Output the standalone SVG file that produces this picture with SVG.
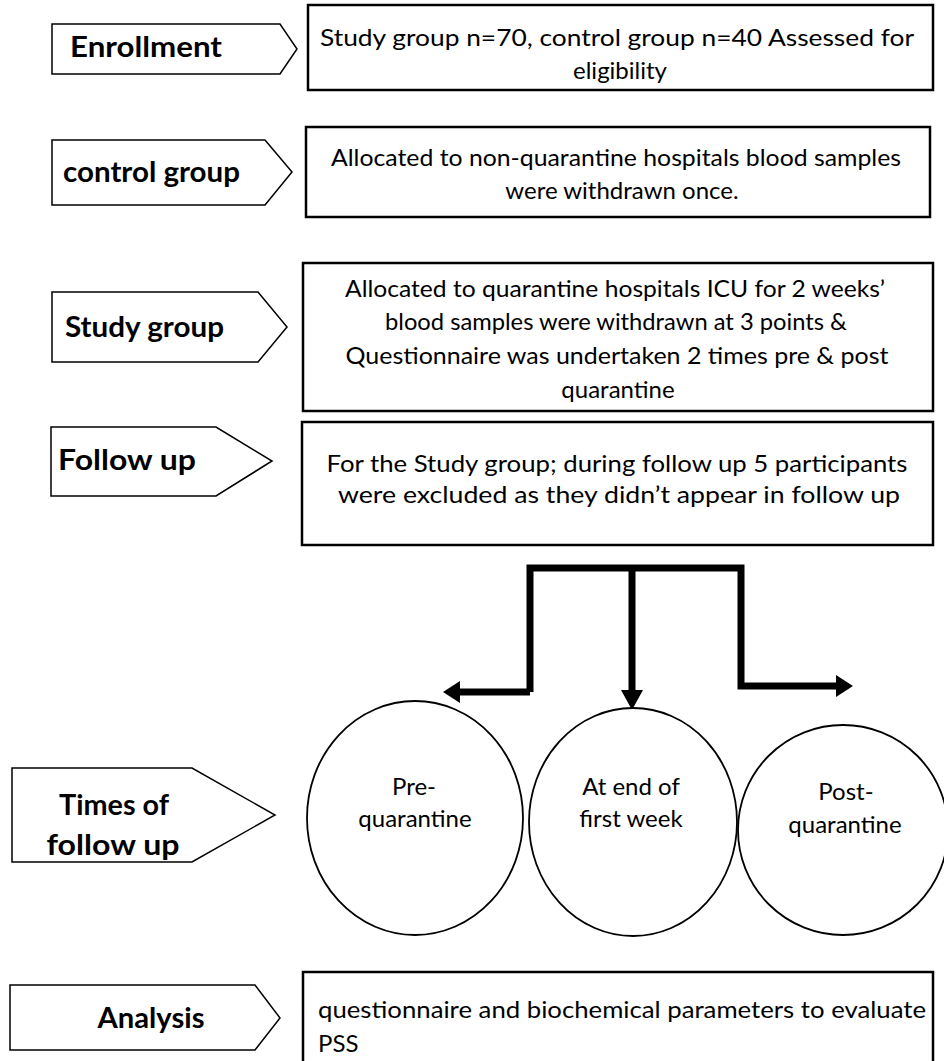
<svg xmlns="http://www.w3.org/2000/svg" width="944" height="1061" viewBox="0 0 944 1061">
<defs>
<style>
.tag{fill:#fff;stroke:#000;stroke-width:1.5}
.box{fill:#fff;stroke:#000;stroke-width:2.5}
.ell{fill:#fff;stroke:#000;stroke-width:1.8}
.lbl{font-family:Lato,"Liberation Sans",sans-serif;font-weight:bold;font-size:28px;fill:#000}
.txt{font-family:Lato,"Liberation Sans",sans-serif;font-size:24px;fill:#000}
.c{text-anchor:middle}
.con{fill:none;stroke:#000;stroke-width:7;stroke-linejoin:miter}
</style>
</defs>

<g id="enrollment">
<path class="tag" d="M52,24 H280 L297,49 L280,74 H52 Z"/>
<text class="lbl" x="70" y="57" textLength="152" lengthAdjust="spacingAndGlyphs">Enrollment</text>
<rect class="box" x="308" y="5" width="625" height="85"/>
<text class="txt c" x="617" y="46" textLength="594" lengthAdjust="spacingAndGlyphs">Study group n=70, control group n=40 Assessed for</text>
<text class="txt c" x="620" y="79">eligibility</text>
</g>

<g id="control-group">
<path class="tag" d="M52,140 H265 L292,172 L265,205 H52 Z"/>
<text class="lbl" x="63" y="182" textLength="177" lengthAdjust="spacingAndGlyphs">control group</text>
<rect class="box" x="306" y="127" width="624" height="90"/>
<text class="txt c" x="616" y="166" textLength="570" lengthAdjust="spacingAndGlyphs">Allocated to non-quarantine hospitals blood samples</text>
<text class="txt c" x="622" y="199">were withdrawn once.</text>
</g>

<g id="study-group">
<path class="tag" d="M52,292 H258 L287,327 L258,362 H52 Z"/>
<text class="lbl" x="65" y="337" textLength="159" lengthAdjust="spacingAndGlyphs">Study group</text>
<rect class="box" x="303" y="263" width="630" height="148"/>
<text class="txt c" x="615" y="297" textLength="540" lengthAdjust="spacingAndGlyphs">Allocated to quarantine hospitals ICU for 2 weeks’</text>
<text class="txt c" x="616" y="330" textLength="462" lengthAdjust="spacingAndGlyphs">blood samples were withdrawn at 3 points &amp;</text>
<text class="txt c" x="617" y="364" textLength="543" lengthAdjust="spacingAndGlyphs">Questionnaire was undertaken 2 times pre &amp; post</text>
<text class="txt c" x="618" y="398">quarantine</text>
</g>

<g id="follow-up">
<path class="tag" d="M51,427 H216 L272,461 L216,496 H51 Z"/>
<text class="lbl" x="58" y="470" textLength="138" lengthAdjust="spacingAndGlyphs">Follow up</text>
<rect class="box" x="302" y="422" width="631" height="123"/>
<text class="txt c" x="617" y="472" textLength="581" lengthAdjust="spacingAndGlyphs">For the Study group; during follow up 5 participants</text>
<text class="txt c" x="619" y="503" textLength="562" lengthAdjust="spacingAndGlyphs">were excluded as they didn’t appear in follow up</text>
</g>

<g id="connectors">
<path class="con" d="M530,692 V568 H741 V686 H836"/>
<path class="con" d="M530,692 H460"/>
<path class="con" d="M632,568 V690"/>
<polygon points="460,681 443,692 460,703" fill="#000"/>
<polygon points="621,690 643,690 632,710" fill="#000"/>
<polygon points="836,675 853,686 836,697" fill="#000"/>
</g>

<g id="times-of-follow-up">
<path class="tag" d="M12,768 H192 L275,815 L192,862 H12 Z"/>
<text class="lbl c" x="114" y="815" textLength="110" lengthAdjust="spacingAndGlyphs">Times of</text>
<text class="lbl c" x="113" y="855" textLength="133" lengthAdjust="spacingAndGlyphs">follow up</text>
</g>

<g id="pre-quarantine">
<ellipse class="ell" cx="415" cy="818" rx="108" ry="117"/>
<text class="txt c" x="414" y="795">Pre-</text>
<text class="txt c" x="415" y="827">quarantine</text>
</g>

<g id="end-first-week">
<ellipse class="ell" cx="633" cy="822" rx="104" ry="114"/>
<text class="txt c" x="631" y="795">At end of</text>
<text class="txt c" x="631" y="827">first week</text>
</g>

<g id="post-quarantine">
<ellipse class="ell" cx="843" cy="830" rx="105" ry="105"/>
<text class="txt c" x="846" y="800">Post-</text>
<text class="txt c" x="845" y="833">quarantine</text>
</g>

<g id="analysis">
<path class="tag" d="M10,985 H255 L280,1018 L255,1050 H10 Z"/>
<text class="lbl c" x="151" y="1028" textLength="107" lengthAdjust="spacingAndGlyphs">Analysis</text>
<rect class="box" x="303" y="972" width="630" height="100"/>
<text class="txt" x="318" y="1018" textLength="608" lengthAdjust="spacingAndGlyphs">questionnaire and biochemical parameters to evaluate</text>
<text class="txt" x="318" y="1052">PSS</text>
</g>
</svg>
